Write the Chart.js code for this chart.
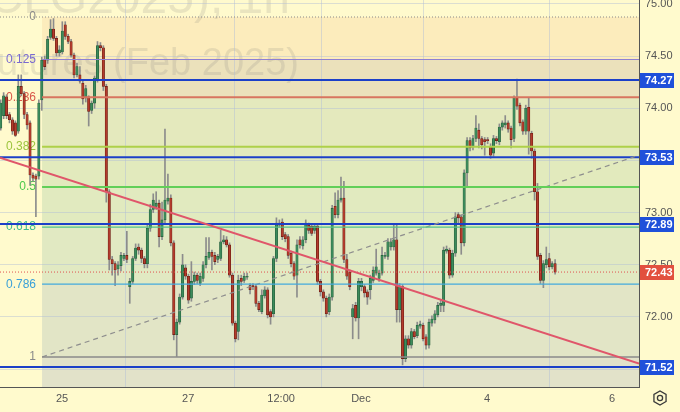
<!DOCTYPE html>
<html>
<head>
<meta charset="utf-8">
<script src="https://cdn.jsdelivr.net/npm/chart.js@4.4.1/dist/chart.umd.min.js"></script>
<style>
  html, body { margin: 0; padding: 0; background: #fffacd; }
  #wrap { width: 680px; height: 412px; }
</style>
</head>
<body>
<div id="wrap"><canvas id="chart" width="680" height="412"></canvas></div>
<script>
// hourly candles
const opens = [
  73.81, 73.93, 74.11, 73.94, 73.89, 73.86, 73.78, 74.21, 74.14, 73.94,
  73.86, 73.36, 73.35, 73.35, 74.08, 74.47, 74.46, 74.68, 74.76, 74.67,
  74.53, 74.54, 74.80, 74.69, 74.64, 74.51, 74.32, 74.32, 74.24, 74.10,
  74.11, 73.98, 74.05, 74.27, 74.60, 74.58, 74.21, 73.20, 72.55, 72.51,
  72.46, 72.49, 72.56, 72.59, 72.29, 72.34, 72.56, 72.67, 72.64, 72.56,
  72.51, 72.85, 73.03, 73.06, 73.09, 72.77, 72.93, 73.11, 73.14, 72.71,
  71.83, 71.95, 72.19, 72.47, 72.39, 72.18, 72.34, 72.40, 72.32, 72.37,
  72.50, 72.57, 72.62, 72.59, 72.55, 72.56, 72.72, 72.74, 72.69, 72.40,
  71.94, 71.86, 72.37, 72.35, 72.38, 72.30, 72.30, 72.29, 72.13, 72.05,
  72.20, 72.26, 72.05, 72.03, 72.56, 72.88, 72.91, 72.79, 72.77, 72.61,
  72.51, 72.40, 72.74, 72.68, 72.74, 72.88, 72.87, 72.83, 72.87, 72.34,
  72.24, 72.18, 72.05, 72.19, 73.06, 72.98, 73.12, 73.14, 72.55, 72.43,
  72.00, 72.11, 71.99, 72.29, 72.29, 72.24, 72.26, 72.35, 72.42, 72.37,
  72.42, 72.58, 72.58, 72.67, 72.67, 72.74, 72.07, 72.29, 71.60, 71.79,
  71.73, 71.86, 71.82, 71.91, 71.92, 71.81, 71.73, 71.94, 71.97, 72.02,
  72.11, 72.11, 72.63, 72.64, 72.40, 72.61, 72.98, 72.96, 72.71, 73.38,
  73.69, 73.63, 73.71, 73.79, 73.71, 73.70, 73.70, 73.63, 73.57, 73.71,
  73.68, 73.82, 73.84, 73.86, 73.81, 73.71, 74.10, 74.03, 73.87, 73.78,
  74.01, 73.76, 73.59, 73.20, 72.59, 72.35, 72.50, 72.56, 72.48, 72.51
];
const highs = [
  74.08, 74.15, 74.13, 73.96, 73.91, 73.88, 74.32, 74.32, 74.16, 73.96,
  73.88, 73.38, 73.37, 74.08, 74.49, 74.50, 74.69, 74.85, 74.86, 74.69,
  74.60, 74.83, 74.83, 74.71, 74.66, 74.53, 74.43, 74.40, 74.26, 74.22,
  74.12, 74.07, 74.31, 74.64, 74.63, 74.60, 74.23, 73.22, 72.58, 72.53,
  72.53, 72.62, 72.61, 72.82, 72.37, 72.58, 72.70, 72.70, 72.66, 72.58,
  72.88, 73.08, 73.18, 73.20, 73.12, 73.10, 73.80, 73.37, 73.17, 72.73,
  71.98, 72.22, 72.60, 72.50, 72.41, 72.53, 72.43, 72.42, 72.42, 72.53,
  72.76, 72.76, 72.64, 72.62, 72.60, 72.83, 72.78, 72.77, 72.71, 72.42,
  71.96, 72.40, 72.40, 72.42, 72.42, 72.32, 72.32, 72.31, 72.15, 72.26,
  72.29, 72.28, 72.07, 72.58, 72.95, 72.93, 72.94, 72.81, 72.79, 72.63,
  72.53, 72.74, 72.77, 72.77, 72.93, 72.90, 72.89, 72.89, 72.89, 72.36,
  72.26, 72.20, 72.22, 73.07, 73.19, 73.21, 73.34, 73.30, 72.60, 72.45,
  72.12, 72.14, 72.37, 72.37, 72.31, 72.26, 72.40, 72.48, 72.65, 72.45,
  72.67, 72.62, 72.75, 72.75, 72.88, 72.88, 72.32, 72.31, 71.82, 71.82,
  71.89, 71.88, 71.95, 71.96, 71.94, 71.83, 71.98, 72.01, 72.06, 72.14,
  72.16, 72.67, 72.68, 72.66, 72.64, 73.00, 73.00, 72.98, 73.41, 73.72,
  73.72, 73.74, 73.93, 73.85, 73.73, 73.72, 73.72, 73.66, 73.74, 73.73,
  73.85, 73.88, 73.93, 73.88, 73.83, 74.12, 74.28, 74.05, 73.89, 74.03,
  74.10, 73.78, 73.61, 73.28, 72.61, 72.54, 72.67, 72.61, 72.53, 72.55
];
const lows = [
  73.79, 73.90, 73.90, 73.86, 73.75, 73.73, 73.76, 74.12, 73.90, 73.80,
  73.26, 73.30, 72.96, 73.32, 73.98, 74.37, 74.43, 74.66, 74.65, 74.50,
  74.50, 74.52, 74.66, 74.62, 74.49, 74.29, 74.30, 74.24, 74.04, 74.06,
  73.83, 73.95, 74.00, 74.25, 74.55, 74.17, 73.10, 72.45, 72.40, 72.30,
  72.40, 72.44, 72.54, 72.52, 72.13, 72.32, 72.54, 72.60, 72.52, 72.47,
  72.47, 72.82, 73.00, 73.03, 72.67, 72.74, 72.90, 73.08, 72.68, 71.78,
  71.62, 71.93, 72.17, 72.36, 72.13, 72.15, 72.31, 72.32, 72.30, 72.34,
  72.47, 72.55, 72.45, 72.50, 72.52, 72.54, 72.70, 72.67, 72.38, 71.92,
  71.76, 71.78, 72.30, 72.33, 72.36, 72.22, 72.26, 72.10, 72.05, 72.03,
  72.18, 71.99, 71.93, 72.00, 72.53, 72.86, 72.74, 72.72, 72.56, 72.48,
  72.36, 72.19, 72.66, 72.65, 72.71, 72.80, 72.78, 72.80, 72.31, 72.20,
  72.15, 72.00, 72.02, 72.16, 72.95, 72.95, 73.10, 72.52, 72.36, 72.26,
  71.79, 71.96, 71.79, 72.25, 72.19, 72.12, 72.17, 72.33, 72.40, 72.34,
  72.40, 72.56, 72.55, 72.64, 72.64, 71.95, 71.95, 71.54, 71.57, 71.70,
  71.70, 71.79, 71.80, 71.89, 71.77, 71.69, 71.70, 71.91, 71.94, 72.00,
  72.05, 72.05, 72.61, 72.37, 72.38, 72.58, 72.90, 72.60, 72.68, 73.24,
  73.59, 73.60, 73.68, 73.62, 73.61, 73.55, 73.66, 73.52, 73.54, 73.66,
  73.65, 73.79, 73.81, 73.77, 73.62, 73.68, 73.99, 73.83, 73.75, 73.75,
  73.56, 73.52, 73.12, 72.55, 72.32, 72.28, 72.47, 72.45, 72.46, 72.41
];
const closes = [
  74.05, 74.12, 73.93, 73.89, 73.78, 73.74, 74.21, 74.14, 73.94, 73.84,
  73.36, 73.33, 73.32, 74.05, 74.46, 74.40, 74.66, 74.76, 74.67, 74.53,
  74.56, 74.74, 74.69, 74.64, 74.51, 74.32, 74.40, 74.26, 74.09, 74.19,
  73.97, 74.05, 74.29, 74.60, 74.58, 74.21, 73.20, 72.55, 72.51, 72.45,
  72.50, 72.59, 72.59, 72.55, 72.34, 72.56, 72.66, 72.64, 72.56, 72.51,
  72.85, 73.03, 73.12, 73.09, 72.77, 72.93, 73.12, 73.14, 72.71, 71.83,
  71.95, 72.19, 72.50, 72.39, 72.16, 72.34, 72.40, 72.35, 72.39, 72.50,
  72.58, 72.62, 72.58, 72.53, 72.58, 72.72, 72.74, 72.69, 72.40, 71.94,
  71.79, 72.35, 72.34, 72.39, 72.39, 72.26, 72.29, 72.13, 72.07, 72.21,
  72.26, 72.02, 72.00, 72.56, 72.90, 72.90, 72.77, 72.75, 72.59, 72.51,
  72.39, 72.69, 72.69, 72.74, 72.90, 72.83, 72.80, 72.87, 72.34, 72.24,
  72.18, 72.03, 72.19, 73.04, 72.98, 73.12, 73.14, 72.55, 72.39, 72.29,
  72.08, 71.99, 72.34, 72.34, 72.23, 72.19, 72.37, 72.45, 72.48, 72.42,
  72.59, 72.59, 72.72, 72.72, 72.74, 72.07, 72.29, 71.60, 71.79, 71.73,
  71.86, 71.81, 71.92, 71.93, 71.79, 71.73, 71.95, 71.98, 72.03, 72.11,
  72.13, 72.64, 72.65, 72.40, 72.61, 72.96, 72.95, 72.71, 73.38, 73.69,
  73.62, 73.71, 73.81, 73.71, 73.65, 73.68, 73.69, 73.55, 73.71, 73.69,
  73.82, 73.86, 73.86, 73.80, 73.70, 74.10, 74.02, 73.86, 73.78, 74.00,
  73.78, 73.59, 73.20, 72.58, 72.35, 72.51, 72.55, 72.48, 72.51, 72.43
];

// axes
const xTickPos = [20.9, 63.9, 95.6, 122.8, 165.8, 208.4];
const xTickLabels = ['25', '27', '12:00', 'Dec', '4', '6'];
const yTicks = [71.5, 72, 72.5, 73, 73.5, 74, 74.5, 75];
const xRange = [-0.24, 217.6];
const yRange = [71.328, 75.038];

// drawings
const levelPrices = [74.27, 73.53, 72.89, 71.52];
const lastPrice = 72.43;
const fibTop = 74.875;
const fibBottom = 71.616;
const fibStartX = 14.1;
const fibRatios = [0, 0.125, 0.236, 0.382, 0.5, 0.618, 0.786, 1];
const trendX = [-0.24, 217.6];
const trendY = [73.526, 71.553];
const dashX = [14.1, 217.6];
const dashY = [71.616, 73.55];

// styles
const BG = '#fffacd';
const fibLineColors = ['#8a8a8a', '#8f80d2', '#d8745f', '#aed04a', '#62cf58', '#4fc38a', '#43a9dc', '#8a8a8a'];
const fibLabelColors = ['#8a8a8a', '#7a6ad0', '#d9584a', '#9cc43c', '#4cc94c', '#3dbb8c', '#3aa0d8', '#8a8a8a'];
const fibFillColors = ['#fcecbc', '#ebe1bb', '#e4e9bd', '#e2eabd', '#e1eabf', '#e1e9c2', '#e2e5c6', '#e2e2c9'];
const UP = '#3c8b5b', DOWN = '#b33b2c';
const UP_EDGE = '#245c3a', DOWN_EDGE = '#64190f';
const BLUE = '#1c40c8';

const fibValue = r => fibTop - r * (fibTop - fibBottom);

const bgPlugin = {
  id: 'bgPlugin',
  beforeDraw(chart) {
    const { ctx, chartArea: a, scales: { x, y } } = chart;
    ctx.save();
    ctx.fillStyle = BG;
    ctx.fillRect(0, 0, chart.width, chart.height);
    const fx = x.getPixelForValue(fibStartX);
    // fib zones, the last one runs to the bottom of the pane
    for (let i = 0; i < fibRatios.length; i++) {
      const y0 = y.getPixelForValue(fibValue(fibRatios[i]));
      const y1 = i < fibRatios.length - 1 ? y.getPixelForValue(fibValue(fibRatios[i + 1])) : a.bottom;
      ctx.fillStyle = fibFillColors[i];
      ctx.fillRect(fx, y0, a.right - fx, y1 - y0);
    }
    // watermark
    ctx.fillStyle = 'rgba(120,120,120,0.16)';
    ctx.font = '38px "Liberation Sans", Arial, sans-serif';
    ctx.textAlign = 'right';
    ctx.textBaseline = 'alphabetic';
    ctx.fillText('Light Crude Oil Futures (Feb 2025)', 299, 75);
    ctx.font = '48px "Liberation Sans", Arial, sans-serif';
    ctx.fillText('CLG2025), 1h', 290, 13);
    ctx.restore();
  },
  beforeDatasetsDraw(chart) {
    const { ctx, scales: { y } } = chart;
    ctx.save();
    ctx.font = '12px "Liberation Sans", Arial, sans-serif';
    ctx.textAlign = 'right';
    ctx.textBaseline = 'middle';
    fibRatios.forEach((r, i) => {
      ctx.fillStyle = fibLabelColors[i];
      ctx.fillText(String(r), 36, y.getPixelForValue(fibValue(r)));
    });
    ctx.restore();
  },
  afterDraw(chart) {
    const { ctx, chartArea: a, scales: { y } } = chart;
    ctx.save();
    ctx.font = 'bold 11px "Liberation Sans", Arial, sans-serif';
    ctx.textAlign = 'left';
    ctx.textBaseline = 'middle';
    const box = (v, color) => {
      const py = Math.round(y.getPixelForValue(v));
      ctx.fillStyle = color;
      ctx.fillRect(a.right + 1, py - 7, 34, 15);
      ctx.fillStyle = '#ffffff';
      ctx.fillText(v.toFixed(2), a.right + 6, py + 1);
    };
    levelPrices.forEach(v => box(v, '#1f50da'));
    box(lastPrice, '#e2503e');
    // settings icon
    const cx = 660, cy = 398;
    ctx.strokeStyle = '#3a3a3a';
    ctx.lineWidth = 1.3;
    ctx.beginPath();
    for (let k = 0; k < 6; k++) {
      const ang = Math.PI / 6 + k * Math.PI / 3;
      const px = cx + 7 * Math.cos(ang), pyy = cy + 7 * Math.sin(ang);
      if (k === 0) ctx.moveTo(px, pyy); else ctx.lineTo(px, pyy);
    }
    ctx.closePath();
    ctx.stroke();
    ctx.beginPath();
    ctx.arc(cx, cy, 2.6, 0, Math.PI * 2);
    ctx.stroke();
    ctx.restore();
  }
};

const hLine = (x0, x1, v, color, width, dash) => ({
  type: 'line',
  data: [{ x: x0, y: v }, { x: x1, y: v }],
  borderColor: color,
  borderWidth: width,
  borderDash: dash || [],
  pointRadius: 0,
  order: 1
});

const idx = closes.map((_, i) => i);
const candleColors = idx.map(i => closes[i] >= opens[i] ? UP : DOWN);
const edgeColors = idx.map(i => closes[i] >= opens[i] ? UP_EDGE : DOWN_EDGE);

const datasets = [
  {
    type: 'bar',
    data: idx.map(i => ({ x: i, y: [lows[i], highs[i]] })),
    backgroundColor: '#8c8c8c',
    barThickness: 1,
    grouped: false,
    order: 11
  },
  {
    type: 'bar',
    data: idx.map(i => ({ x: i, y: [opens[i], closes[i]] })),
    backgroundColor: candleColors,
    borderColor: edgeColors,
    borderWidth: 0.6,
    borderSkipped: false,
    barThickness: 2.4,
    minBarLength: 1,
    grouped: false,
    order: 10
  }
];

// fib levels
fibRatios.forEach((r, i) => {
  const w = (i === 7 ? 1.5 : (i >= 2 && i <= 4 ? 2 : 1.2));
  if (i === 0) {
    datasets.push(hLine(xRange[0], xRange[1], fibValue(r), '#8a8a8a', 1, [1, 2]));
  } else {
    datasets.push(hLine(fibStartX, xRange[1], fibValue(r), fibLineColors[i], w));
  }
});
datasets.push({
  type: 'line',
  data: dashX.map((xv, i) => ({ x: xv, y: dashY[i] })),
  borderColor: '#8e8e8e', borderWidth: 1.2, borderDash: [5, 4], pointRadius: 0, order: 1
});
datasets.push(hLine(xRange[0], xRange[1], lastPrice, '#e05050', 1, [1, 2]));
levelPrices.forEach(v => datasets.push(hLine(xRange[0], xRange[1], v, BLUE, 2)));
datasets.push({
  type: 'line',
  data: trendX.map((xv, i) => ({ x: xv, y: trendY[i] })),
  borderColor: '#e0566a', borderWidth: 2, pointRadius: 0, order: 0
});

const gridColor = 'rgba(175,188,215,0.45)';
const noPad = s => { s.paddingTop = 0; s.paddingBottom = 0; s.paddingLeft = 0; s.paddingRight = 0; };

new Chart(document.getElementById('chart'), {
  type: 'bar',
  data: { datasets },
  options: {
    responsive: false,
    animation: false,
    devicePixelRatio: 1,
    layout: { padding: 0 },
    plugins: { legend: { display: false }, tooltip: { enabled: false } },
    scales: {
      x: {
        type: 'linear',
        min: xRange[0],
        max: xRange[1],
        offset: false,
        grid: { color: gridColor, drawTicks: false },
        border: { display: true, color: '#555555' },
        afterBuildTicks: s => { s.ticks = xTickPos.map(v => ({ value: v })); },
        afterFit: s => { s.height = 25; noPad(s); },
        ticks: {
          autoSkip: false,
          maxRotation: 0,
          padding: 5,
          color: '#555555',
          font: { family: '"Liberation Sans", Arial, sans-serif', size: 11 },
          callback: (v, i) => xTickLabels[i]
        }
      },
      y: {
        position: 'right',
        min: yRange[0],
        max: yRange[1],
        grid: { color: gridColor, drawTicks: false },
        border: { display: true, color: '#555555' },
        afterBuildTicks: s => { s.ticks = yTicks.map(v => ({ value: v })); },
        afterFit: s => { s.width = 41; noPad(s); },
        ticks: {
          padding: 6,
          color: '#555555',
          font: { family: '"Liberation Sans", Arial, sans-serif', size: 11 },
          callback: v => v.toFixed(2)
        }
      }
    }
  },
  plugins: [bgPlugin]
});
</script>
</body>
</html>
